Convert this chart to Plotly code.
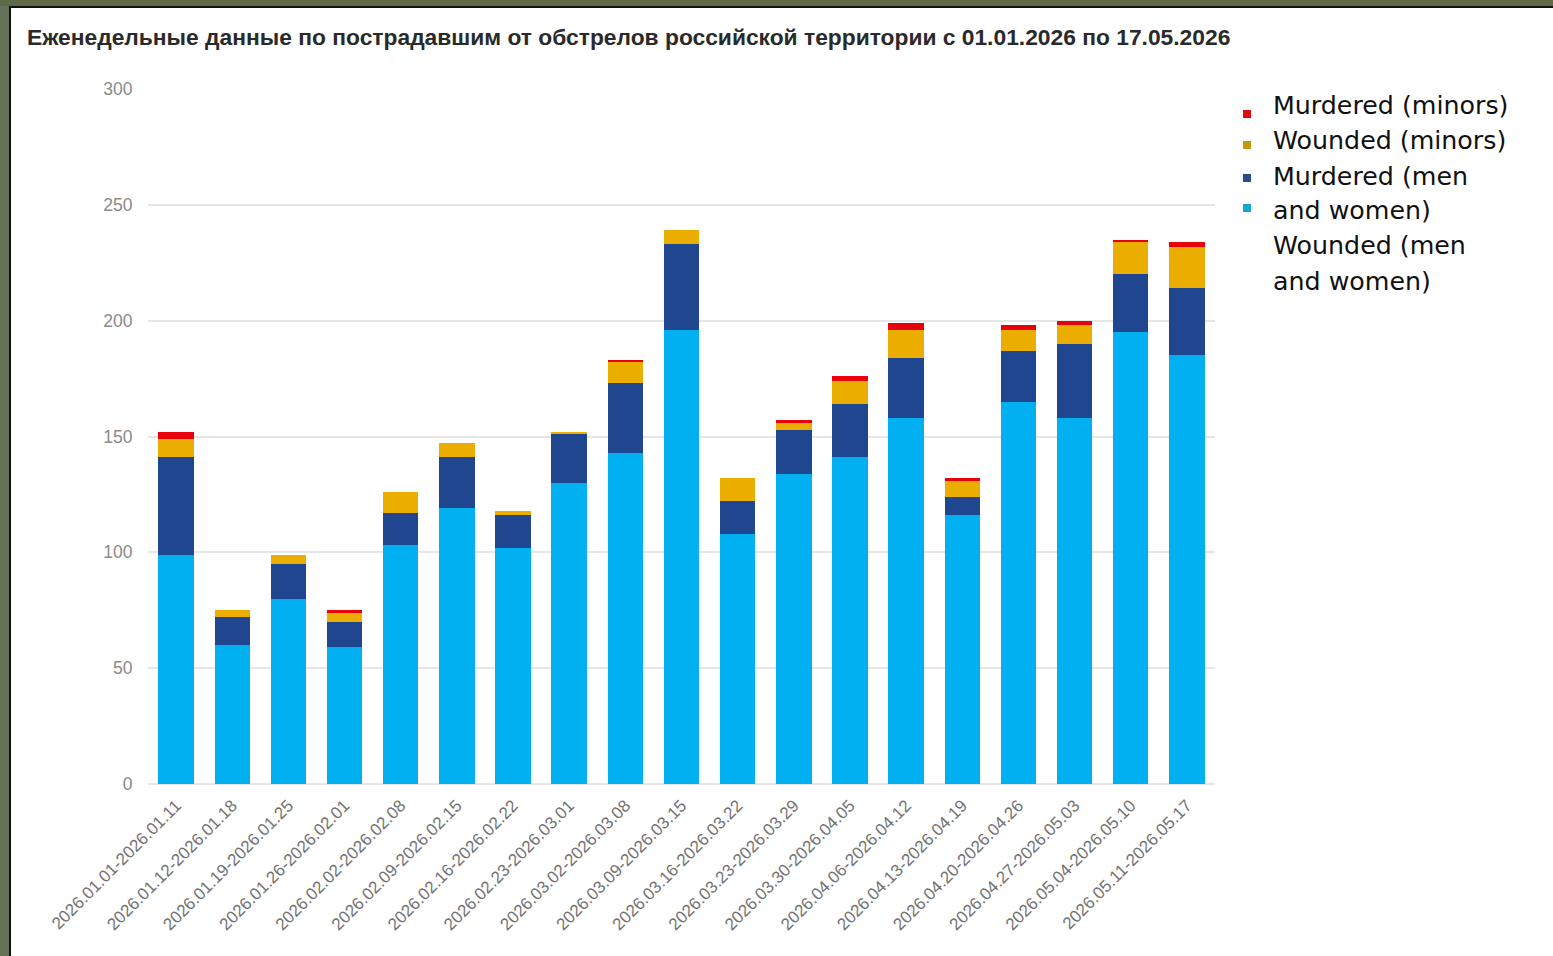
import plotly.graph_objects as go

weeks = [
    "2026.01.01-2026.01.11", "2026.01.12-2026.01.18", "2026.01.19-2026.01.25",
    "2026.01.26-2026.02.01", "2026.02.02-2026.02.08", "2026.02.09-2026.02.15",
    "2026.02.16-2026.02.22", "2026.02.23-2026.03.01", "2026.03.02-2026.03.08",
    "2026.03.09-2026.03.15", "2026.03.16-2026.03.22", "2026.03.23-2026.03.29",
    "2026.03.30-2026.04.05", "2026.04.06-2026.04.12", "2026.04.13-2026.04.19",
    "2026.04.20-2026.04.26", "2026.04.27-2026.05.03", "2026.05.04-2026.05.10",
    "2026.05.11-2026.05.17",
]
wounded_adults = [99, 60, 80, 59, 103, 119, 102, 130, 143, 196, 108, 134, 141, 158, 116, 165, 158, 195, 185]
murdered_adults = [42, 12, 15, 11, 14, 22, 14, 21, 30, 37, 14, 19, 23, 26, 8, 22, 32, 25, 29]
wounded_minors = [8, 3, 4, 4, 9, 6, 2, 1, 9, 6, 10, 3, 10, 12, 7, 9, 8, 14, 18]
murdered_minors = [3, 0, 0, 1, 0, 0, 0, 0, 1, 0, 0, 1, 2, 3, 1, 2, 2, 1, 2]

legend_lines = ["Murdered (minors)", "Wounded (minors)", "Murdered (men", "and women)", "Wounded (men", "and women)"]
legend_colors = ["#e00a0a", "#c9960c", "#2c4b8c", "#16a3d6"]

title = "Еженедельные данные по пострадавшим от обстрелов российской территории с 01.01.2026 по 17.05.2026"

W, H = 1553, 956
L, R, T, B = 148, 338, 89, 172
PW, PH = W - L - R, H - T - B


def px_x(p):
    return (p - L) / PW


def px_y(p):
    return (H - B - p) / PH


fig = go.Figure()
series = [
    ("Wounded (men and women)", wounded_adults, "#00b0f0"),
    ("Murdered (men and women)", murdered_adults, "#1f468f"),
    ("Wounded (minors)", wounded_minors, "#ebae00"),
    ("Murdered (minors)", murdered_minors, "#e8000b"),
]
for name, vals, col in series:
    fig.add_trace(go.Bar(x=weeks, y=vals, name=name, marker=dict(color=col, line=dict(width=0)),
                         showlegend=False))

shapes = []
# frame strips (left and top)
shapes.append(dict(type="rect", xref="paper", yref="paper", x0=px_x(0), x1=px_x(9), y0=px_y(H), y1=px_y(0),
                   fillcolor="#66725a", line=dict(width=0), layer="above"))
shapes.append(dict(type="rect", xref="paper", yref="paper", x0=px_x(9), x1=px_x(11), y0=px_y(H), y1=px_y(7),
                   fillcolor="#111111", line=dict(width=0), layer="above"))
shapes.append(dict(type="rect", xref="paper", yref="paper", x0=px_x(0), x1=px_x(W), y0=px_y(6), y1=px_y(0),
                   fillcolor="#5c6a48", line=dict(width=0), layer="above"))
shapes.append(dict(type="rect", xref="paper", yref="paper", x0=px_x(9), x1=px_x(W), y0=px_y(8), y1=px_y(6),
                   fillcolor="#111111", line=dict(width=0), layer="above"))

# legend markers
marker_y = [114, 145, 178, 208]
for yc, col in zip(marker_y, legend_colors):
    shapes.append(dict(type="rect", xref="paper", yref="paper", x0=px_x(1243), x1=px_x(1251),
                       y0=px_y(yc + 4), y1=px_y(yc - 4), fillcolor=col, line=dict(width=0)))

line_y = [105, 140, 176, 211, 246, 281]
annotations = []
for txt, yc in zip(legend_lines, line_y):
    annotations.append(dict(text=txt, xref="paper", yref="paper", x=px_x(1271), y=px_y(yc),
                            xanchor="left", yanchor="middle", align="left", showarrow=False,
                            font=dict(family="DejaVu Sans, Verdana, sans-serif", size=25.3, color="#111111")))

fig.update_layout(
    width=W, height=H,
    margin=dict(l=L, r=R, t=T, b=B),
    paper_bgcolor="white", plot_bgcolor="white",
    barmode="stack", bargap=0.37,
    title=dict(text="<b>" + title + "</b>", xref="container", yref="container",
               x=27 / W, xanchor="left", y=1 - 37 / H, yanchor="middle",
               font=dict(family="Liberation Sans, Arial, sans-serif", size=22.8, color="#2a2a2a")),
    shapes=shapes,
    annotations=annotations,
    font=dict(family="Liberation Sans, Arial, sans-serif"),
)
fig.update_yaxes(range=[0, 300], tickvals=[0, 50, 100, 150, 200, 250, 300],
                 showgrid=True, gridcolor="#e6e6e6", gridwidth=1.5, zeroline=True, zerolinecolor="#e6e6e6",
                 zerolinewidth=1.5,
                 ticks="outside", ticklen=11, tickcolor="rgba(0,0,0,0)",
                 tickfont=dict(size=17.5, color="#8a8a8a"))
fig.update_xaxes(tickangle=-45, tickfont=dict(size=17, color="#727272"), showline=False,
                 ticks="outside", ticklen=4, tickcolor="rgba(0,0,0,0)")

fig.write_html("out.html", config={"displayModeBar": False},
               post_script="document.body.style.margin='0';document.body.style.overflow='hidden';")
